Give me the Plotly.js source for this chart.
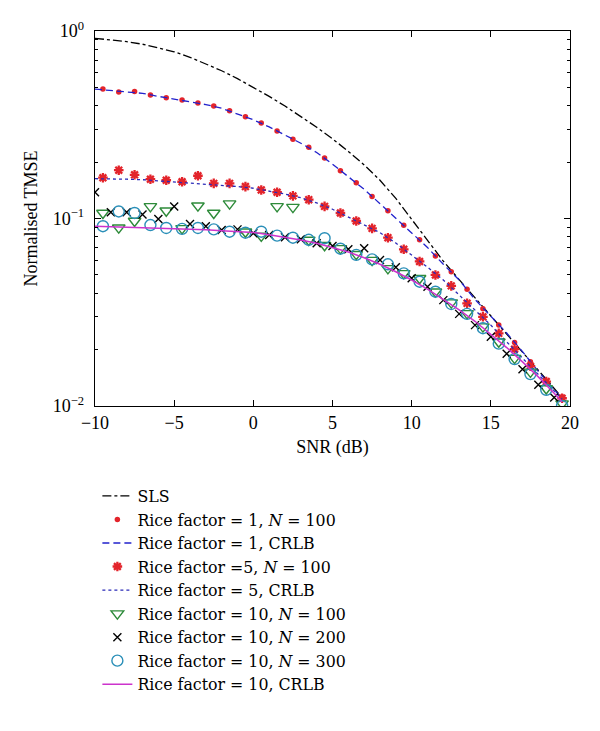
<!DOCTYPE html>
<html>
<head>
<meta charset="utf-8">
<script src="https://cdn.plot.ly/plotly-3.0.1.min.js"></script>
<style>html,body{margin:0;padding:0;background:#fff;}#chart{width:600px;height:731px;}</style>
</head>
<body>
<div id="chart"></div>
<script>
// SNR grids
var snrLine = [-10,-9,-8,-7,-6,-5,-4,-3,-2,-1,0,1,2,3,4,5,6,7,8,9,10,11,12,13,14,15,16,17,18,19,19.5];
var snrHalf = [-9.5,-8.5,-7.5,-6.5,-5.5,-4.5,-3.5,-2.5,-1.5,-0.5,0.5,1.5,2.5,3.5,4.5,5.5,6.5,7.5,8.5,9.5,10.5,11.5,12.5,13.5,14.5,15.5,16.5,17.5,18.5,19.5];
var snrInt = [-10,-9,-8,-7,-6,-5,-4,-3,-2,-1,0,1,2,3,4,5,6,7,8,9,10,11,12,13,14,15,16,17,18,19];

// SLS
var sls = [0.914,0.898,0.878,0.85,0.812,0.775,0.724,0.67,0.614,0.557,0.501,0.448,0.398,0.351,0.307,0.266,0.228,0.193,0.16,0.128,0.0986,0.0759,0.0592,0.0472,0.0378,0.0302,0.0242,0.0193,0.0155,0.0124,0.0111];
// Rice factor = 1
var rice1N100 = [0.49,0.473,0.475,0.456,0.44,0.428,0.413,0.398,0.376,0.349,0.323,0.293,0.265,0.24,0.21,0.18,0.155,0.131,0.11,0.092,0.077,0.063,0.052,0.042,0.033,0.027,0.0218,0.0172,0.0135,0.0112];
var rice1CRLB = [0.49,0.482,0.474,0.465,0.448,0.434,0.42,0.405,0.387,0.362,0.336,0.308,0.279,0.252,0.225,0.195,0.167,0.143,0.12,0.1,0.084,0.07,0.057,0.047,0.037,0.03,0.0245,0.0195,0.0153,0.0122,0.011];
// Rice factor = 5
var rice5N100 = [0.165,0.181,0.171,0.162,0.16,0.157,0.169,0.154,0.154,0.148,0.142,0.138,0.132,0.126,0.116,0.107,0.097,0.0886,0.079,0.0685,0.059,0.05,0.0437,0.0353,0.0299,0.0244,0.0201,0.0163,0.0135,0.011];
var rice5CRLB = [0.163,0.163,0.162,0.161,0.159,0.157,0.155,0.153,0.151,0.148,0.145,0.14,0.135,0.129,0.121,0.112,0.102,0.093,0.084,0.074,0.064,0.055,0.047,0.039,0.0325,0.027,0.022,0.018,0.0148,0.012,0.0109];
// Rice factor = 10
var rice10N100 = [0.107,0.0893,0.097,0.116,0.11,0.0886,0.117,0.107,0.12,0.085,0.0807,0.116,0.115,0.0768,0.072,0.0693,0.0645,0.06,0.0542,0.051,0.048,0.0407,0.0356,0.0312,0.0265,0.022,0.018,0.0152,0.0124,0.0103];
var rice10N200 = [0.138,0.108,0.108,0.105,0.0993,0.116,0.0935,0.091,0.0869,0.0875,0.0834,0.0817,0.0795,0.0775,0.0737,0.0713,0.0685,0.0693,0.06,0.0549,0.048,0.0433,0.0367,0.031,0.027,0.0234,0.019,0.0157,0.013,0.0111];
var rice10N300 = [0.091,0.109,0.107,0.0923,0.089,0.088,0.089,0.0875,0.085,0.084,0.085,0.081,0.079,0.077,0.0785,0.069,0.064,0.0605,0.057,0.051,0.046,0.0407,0.035,0.031,0.026,0.0215,0.0178,0.0148,0.0122,0.0100];
var rice10CRLB = [0.091,0.0905,0.09,0.0895,0.089,0.0885,0.088,0.087,0.086,0.0853,0.0843,0.082,0.0795,0.0768,0.0737,0.07,0.0662,0.0618,0.057,0.052,0.047,0.042,0.0372,0.0326,0.0283,0.0242,0.0205,0.0172,0.0143,0.0117,0.0105];

var xTicks = [-10,-5,0,5,10,15,20];
var yTickVals = [1,0.1,0.01];
var yTickText = ['10<sup>0</sup>','10<sup>\u22121</sup>','10<sup>\u22122</sup>'];
var yMinor = [0.02,0.03,0.04,0.05,0.06,0.07,0.08,0.09,0.2,0.3,0.4,0.5,0.6,0.7,0.8,0.9];
var names = ['SLS','Rice factor = 1, <i>N</i> = 100','Rice factor = 1, CRLB','Rice factor =5, <i>N</i> = 100','Rice factor = 5, CRLB','Rice factor = 10, <i>N</i> = 100','Rice factor = 10, <i>N</i> = 200','Rice factor = 10, <i>N</i> = 300','Rice factor = 10, CRLB'];

var traces = [
  {x: snrLine, y: sls, name: names[0], mode: 'lines', line: {color: '#000', dash: 'dashdot', width: 1.3}},
  {x: snrHalf, y: rice1N100, name: names[1], mode: 'markers', marker: {symbol: 'circle', color: '#e3242b', size: 5.5}},
  {x: snrLine, y: rice1CRLB, name: names[2], mode: 'lines', line: {color: '#2222cc', dash: '7px,4px', width: 1.3}},
  {x: snrHalf, y: rice5N100, name: names[3], mode: 'markers', marker: {symbol: 'asterisk-open', color: '#e3242b', size: 8, line: {color: '#e3242b', width: 2.3}}},
  {x: snrLine, y: rice5CRLB, name: names[4], mode: 'lines', line: {color: '#2a2ab8', dash: 'dot', width: 1.3}},
  {x: snrHalf, y: rice10N100, name: names[5], mode: 'markers', marker: {symbol: 'triangle-down-open', color: '#2e8b3a', size: 11, line: {color: '#2e8b3a', width: 1.4}}},
  {x: snrInt, y: rice10N200, name: names[6], mode: 'markers', marker: {symbol: 'x-thin-open', color: '#000', size: 8, line: {color: '#000', width: 1.4}}},
  {x: snrHalf, y: rice10N300, name: names[7], mode: 'markers', marker: {symbol: 'circle-open', color: '#2a8fb8', size: 11, line: {color: '#2a8fb8', width: 1.4}}},
  {x: snrLine, y: rice10CRLB, name: names[8], mode: 'lines', line: {color: '#cc33cc', width: 1.5}}
];

var fontFam = "'Liberation Serif', 'DejaVu Serif', serif";
var legendFam = "'DejaVu Serif', 'Liberation Serif', serif";
var layout = {
  width: 600, height: 731,
  margin: {l: 95, r: 30, t: 31, b: 325},
  paper_bgcolor: '#fff', plot_bgcolor: '#fff',
  font: {family: fontFam, size: 18, color: '#000'},
  showlegend: true,
  legend: {x: 0.005, xanchor: 'left', y: -0.195, yanchor: 'top', bgcolor: 'rgba(0,0,0,0)', font: {family: legendFam, size: 15.8}, tracegroupgap: 0},
  xaxis: {
    range: [-10, 20], tickmode: 'array', tickvals: xTicks, ticktext: xTicks.map(function(v){return v < 0 ? '\u2212' + Math.abs(v) : String(v);}),
    ticks: 'inside', ticklen: 6, tickwidth: 1, tickcolor: '#000',
    showline: true, linecolor: '#000', linewidth: 1.3, mirror: 'ticks', showgrid: false, zeroline: false,
    title: {text: 'SNR (dB)', font: {family: fontFam, size: 18}, standoff: 8},
    tickfont: {family: fontFam, size: 18}
  },
  yaxis: {
    type: 'log', range: [-2, 0], tickmode: 'array', tickvals: yTickVals, ticktext: yTickText,
    ticks: 'inside', ticklen: 6, tickwidth: 1, tickcolor: '#000', ticklabelstandoff: 6,
    minor: {tickmode: 'array', tickvals: yMinor, ticks: 'inside', ticklen: 3, tickcolor: '#000', showgrid: false},
    showline: true, linecolor: '#000', linewidth: 1.3, mirror: 'ticks', showgrid: false, zeroline: false,
    title: {text: 'Normalised TMSE', font: {family: fontFam, size: 18}, standoff: 10},
    tickfont: {family: fontFam, size: 18}
  }
};

Plotly.newPlot('chart', traces, layout, {displayModeBar: false, staticPlot: true});
</script>
</body>
</html>
